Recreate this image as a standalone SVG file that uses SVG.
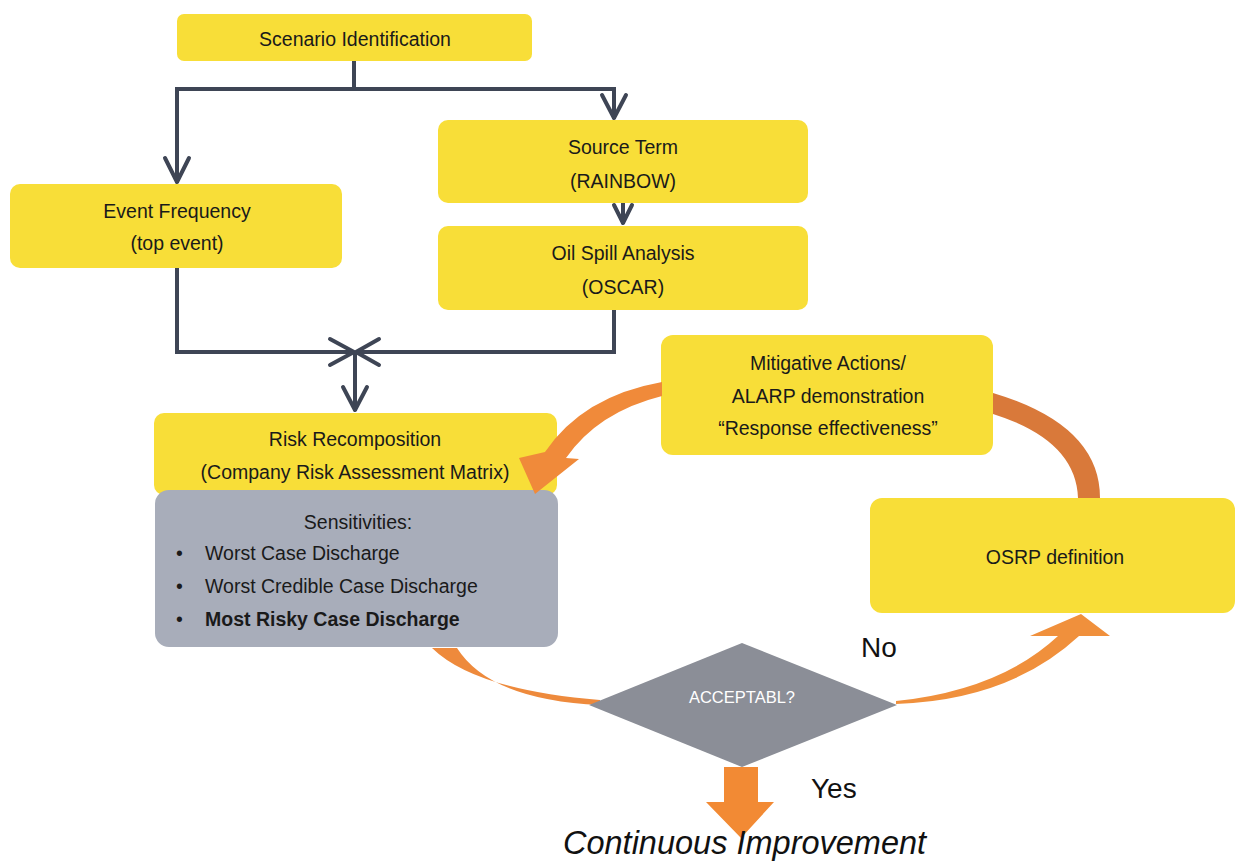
<svg xmlns="http://www.w3.org/2000/svg" width="1235" height="862" viewBox="0 0 1235 862">
<defs>
<style>
.box{fill:#F8DE38;}
.t{font-family:"Liberation Sans",Arial,sans-serif;font-size:19.5px;fill:#1a1a1a;text-anchor:middle;}
.tl{font-family:"Liberation Sans",Arial,sans-serif;font-size:19.5px;fill:#1a1a1a;}
.conn{fill:none;stroke:#3E4555;stroke-width:4;stroke-linejoin:miter;}
.head{fill:none;stroke:#3E4555;stroke-width:4;stroke-linecap:round;stroke-linejoin:round;}
.big{font-family:"Liberation Sans",Arial,sans-serif;font-size:28px;fill:#111;}
</style>
</defs>
<rect width="1235" height="862" fill="#FFFFFF"/>

<g id="connectors">
<polyline class="conn" points="354,61 354,89"/>
<polyline class="conn" points="177,183 177,89 614,89 614,119"/>
<polyline class="head" points="165,158 177,182 189,158"/>
<polyline class="head" points="602,95 614,118 626,95"/>
<line class="conn" x1="623" y1="203" x2="623" y2="224"/>
<polyline class="head" points="614,205 623,223 632,205"/>
<polyline class="conn" points="177,268 177,352 353,352"/>
<polyline class="conn" points="614,310 614,352 357,352"/>
<polyline class="head" points="330,339 354,352 330,365"/>
<polyline class="head" points="379,339 356,352 379,365"/>
<line class="conn" x1="355" y1="352" x2="355" y2="411"/>
<polyline class="head" points="343,387 355,410 367,387"/>
</g>

<g id="scenario">
<rect class="box" x="177" y="14" width="355" height="47" rx="7"/>
<text class="t" x="355" y="46">Scenario Identification</text>
</g>

<g id="event-frequency">
<rect class="box" x="10" y="184" width="332" height="84" rx="10"/>
<text class="t" x="177" y="218">Event Frequency</text>
<text class="t" x="177" y="250">(top event)</text>
</g>

<g id="source-term">
<rect class="box" x="438" y="120" width="370" height="83" rx="10"/>
<text class="t" x="623" y="154">Source Term</text>
<text class="t" x="623" y="188">(RAINBOW)</text>
</g>

<g id="oil-spill">
<rect class="box" x="438" y="226" width="370" height="84" rx="10"/>
<text class="t" x="623" y="260">Oil Spill Analysis</text>
<text class="t" x="623" y="294">(OSCAR)</text>
</g>

<g id="risk-recomposition">
<rect class="box" x="154" y="413" width="403" height="82" rx="10"/>
<text class="t" x="355" y="446">Risk Recomposition</text>
<text class="t" x="355" y="479">(Company Risk Assessment Matrix)</text>
</g>

<g id="sensitivities">
<rect x="155" y="490" width="403" height="157" rx="14" fill="#A8ADBA"/>
<text class="t" x="358" y="529">Sensitivities:</text>
<text class="tl" x="176" y="560">•</text>
<text class="tl" x="205" y="560">Worst Case Discharge</text>
<text class="tl" x="176" y="593">•</text>
<text class="tl" x="205" y="593">Worst Credible Case Discharge</text>
<text class="tl" x="176" y="626">•</text>
<text class="tl" x="205" y="626" font-weight="bold">Most Risky Case Discharge</text>
</g>

<g id="mitigative">
<rect class="box" x="661" y="335" width="332" height="120" rx="12"/>
<text class="t" x="828" y="370">Mitigative Actions/</text>
<text class="t" x="828" y="403">ALARP demonstration</text>
<text class="t" x="828" y="435">“Response effectiveness”</text>
</g>

<g id="osrp">
<rect class="box" x="870" y="498" width="365" height="115" rx="12"/>
<text class="t" x="1055" y="564">OSRP definition</text>
</g>

<g id="orange-connectors">
<!-- Mitigative -> Risk -->
<path d="M662 382 Q583 396 545 452 L519 458 L535 494 L579 459 L566 458 Q598 412 662 396 Z" fill="#F08A3A"/>
<!-- Mitigative -> OSRP -->
<path d="M993 393 Q1100 425 1100 498 L1078 498 Q1076 440 993 414 Z" fill="#D9793A"/>
<!-- Sensitivities -> diamond -->
<path d="M432 648 Q475 690 600 700 L600 705 Q490 700 457 648 Z" fill="#EE8A3C"/>
<!-- diamond -> OSRP -->
<path d="M896 704 Q1010 700 1079 636 L1110 636 L1081 614 L1030 636 L1058 636 Q1000 690 896 701 Z" fill="#F0903C"/>
</g>

<g id="decision">
<polygon points="589,705 742,643 897,705 742,767" fill="#8B8E97"/>
<text x="742" y="703" font-family="Liberation Sans, Arial, sans-serif" font-size="16.5" fill="#FFFFFF" text-anchor="middle">ACCEPTABL?</text>
</g>

<g id="yes-arrow">
<path d="M724 767 L758 767 L758 802 L774 802 L741 838 L706 802 L724 802 Z" fill="#F28A34"/>
</g>

<text class="big" x="861" y="657">No</text>
<text class="big" x="811" y="798">Yes</text>
<text x="563" y="854" font-family="Liberation Sans, Arial, sans-serif" font-size="32.5" font-style="italic" fill="#111">Continuous Improvement</text>
</svg>
